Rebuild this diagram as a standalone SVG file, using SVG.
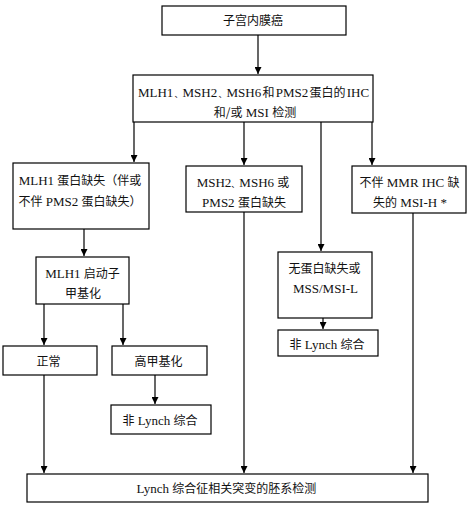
<svg xmlns="http://www.w3.org/2000/svg" width="468" height="506" viewBox="0 0 468 506">
<style>
.box{fill:#fff;stroke:#000;stroke-width:1.2}
.t{font-family:"Liberation Serif","Noto Sans CJK SC",serif;font-size:13px;fill:#111;text-anchor:middle}
.z{font-family:"Noto Sans CJK SC",sans-serif;font-size:12px}
.d{font-family:"Noto Sans CJK SC",sans-serif;font-size:8px}
.c{stroke:#000;stroke-width:1.2;fill:none}
</style>
<defs>
<marker id="ah" viewBox="0 0 10 10" refX="10" refY="5" markerWidth="7" markerHeight="7" markerUnits="userSpaceOnUse" orient="auto">
<path d="M0,0 L10,5 L0,10 z" fill="#000"/>
</marker>
</defs>
<rect width="468" height="506" fill="#fff"/>
<g id="connectors">
<line class="c" x1="258" y1="35" x2="258" y2="74" marker-end="url(#ah)"/>
<line class="c" x1="134" y1="122" x2="134" y2="162" marker-end="url(#ah)"/>
<line class="c" x1="244" y1="122" x2="244" y2="165" marker-end="url(#ah)"/>
<line class="c" x1="321" y1="122" x2="321" y2="251" marker-end="url(#ah)"/>
<line class="c" x1="372" y1="122" x2="372" y2="165" marker-end="url(#ah)"/>
<line class="c" x1="84" y1="209" x2="84" y2="256" marker-end="url(#ah)"/>
<line class="c" x1="44" y1="304" x2="44" y2="345" marker-end="url(#ah)"/>
<line class="c" x1="123" y1="304" x2="123" y2="345" marker-end="url(#ah)"/>
<line class="c" x1="155" y1="375" x2="155" y2="404" marker-end="url(#ah)"/>
<line class="c" x1="44" y1="375" x2="44" y2="473" marker-end="url(#ah)"/>
<line class="c" x1="244" y1="210" x2="244" y2="473" marker-end="url(#ah)"/>
<line class="c" x1="413" y1="212" x2="413" y2="473" marker-end="url(#ah)"/>
<line class="c" x1="323" y1="297" x2="323" y2="329" marker-end="url(#ah)"/>
</g>
<g id="n1"><rect class="box" x="162" y="6" width="184" height="29"/><text class="t" x="253" y="25"><tspan class="z">子宫内膜癌</tspan></text></g>
<g id="n2"><rect class="box" x="133" y="75" width="240" height="47"/><text class="t" x="253.5" y="97" word-spacing="-2">MLH1 <tspan class="d">、</tspan>MSH2 <tspan class="d">、</tspan>MSH6 <tspan class="z">和</tspan> PMS2 <tspan class="z">蛋白的</tspan> IHC</text><text class="t" x="255" y="117"><tspan class="z">和/或</tspan> MSI <tspan class="z">检测</tspan></text></g>
<g id="n3"><rect class="box" x="13" y="163" width="136" height="66"/><text class="t" x="80" y="185">MLH1 <tspan class="z">蛋白缺失（伴或</tspan></text><text class="t" x="80" y="206"><tspan class="z">不伴</tspan> PMS2 <tspan class="z">蛋白缺失）</tspan></text></g>
<g id="n4"><rect class="box" x="186" y="166" width="116" height="46"/><text class="t" x="243" y="187">MSH2<tspan class="d">、</tspan>MSH6 <tspan class="z">或</tspan></text><text class="t" x="244" y="207">PMS2 <tspan class="z">蛋白缺失</tspan></text></g>
<g id="n5"><rect class="box" x="352" y="166" width="114" height="47"/><text class="t" x="409.5" y="187"><tspan class="z">不伴</tspan> MMR IHC <tspan class="z">缺</tspan></text><text class="t" x="410" y="207"><tspan class="z">失的</tspan> MSI-H *</text></g>
<g id="n6"><rect class="box" x="36" y="257" width="93" height="47"/><text class="t" x="82.5" y="278">MLH1 <tspan class="z">启动子</tspan></text><text class="t" x="83" y="298"><tspan class="z">甲基化</tspan></text></g>
<g id="n7"><rect class="box" x="278" y="252" width="94" height="66"/><text class="t" x="324.5" y="273"><tspan class="z">无蛋白缺失或</tspan></text><text class="t" x="325.5" y="293">MSS/MSI-L</text></g>
<g id="n8"><rect class="box" x="278" y="330" width="100" height="26"/><text class="t" x="327" y="349"><tspan class="z">非</tspan> Lynch <tspan class="z">综合</tspan></text></g>
<g id="n9"><rect class="box" x="3" y="346" width="94" height="29"/><text class="t" x="48.5" y="366"><tspan class="z">正常</tspan></text></g>
<g id="n10"><rect class="box" x="112" y="346" width="95" height="29"/><text class="t" x="158.5" y="366"><tspan class="z">高甲基化</tspan></text></g>
<g id="n11"><rect class="box" x="111" y="405" width="100" height="29"/><text class="t" x="160" y="425"><tspan class="z">非</tspan> Lynch <tspan class="z">综合</tspan></text></g>
<g id="n12"><rect class="box" x="27" y="474" width="401" height="28"/><text class="t" x="226.5" y="493">Lynch <tspan class="z">综合征相关突变的胚系检测</tspan></text></g>
</svg>
